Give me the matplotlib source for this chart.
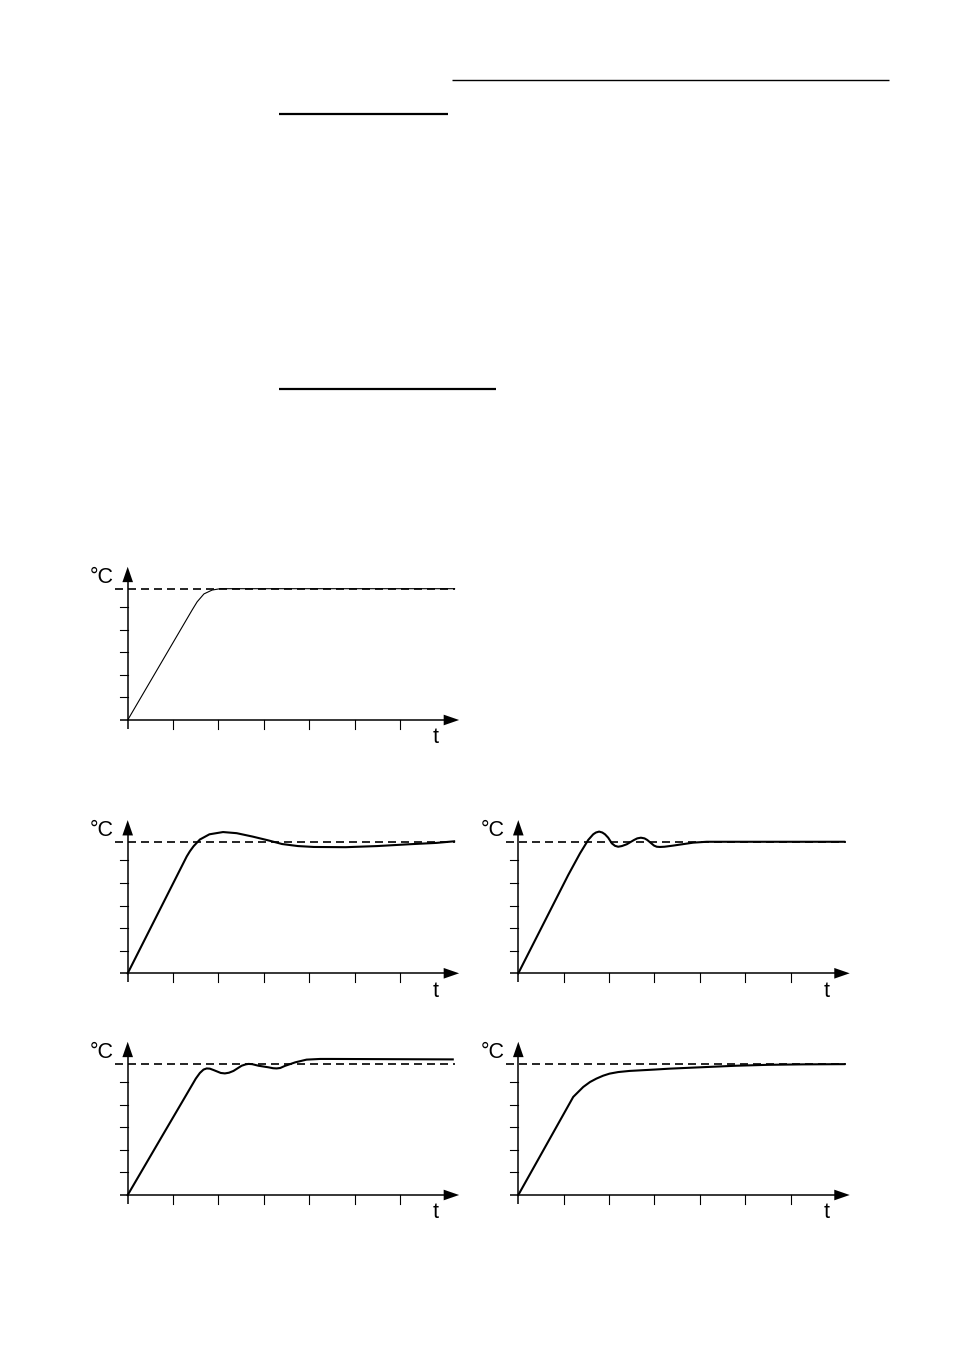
import matplotlib.pyplot as plt
from matplotlib.lines import Line2D
import numpy as np

plt.rcParams['font.family'] = ['Liberation Sans', 'DejaVu Sans']

ANCHO, ALTO = 954, 1351
UX, UY = 45.4, 22.6          # pixeles por division en x e y

# curvas (t en divisiones, temperatura en divisiones)
t_1 = [0, 1.42, 1.53, 1.68, 1.86, 2.04, 7.20]
temp_1 = [0, 4.87, 5.23, 5.58, 5.75, 5.81, 5.81]

t_2 = [0, 1.30, 1.37, 1.45, 1.59, 1.80, 2.10, 2.40, 2.75, 3.10, 3.40, 3.75,
       4.10, 4.80, 5.50, 6.20, 6.80, 7.19]
temp_2 = [0, 5.17, 5.40, 5.62, 5.92, 6.15, 6.25, 6.20, 6.05, 5.88, 5.72, 5.63,
          5.59, 5.58, 5.63, 5.71, 5.77, 5.84]

t_3 = [0, 1.10, 1.36, 1.54, 1.65, 1.71, 1.78, 1.85, 1.91, 1.98, 2.06, 2.13,
       2.20, 2.28, 2.39, 2.55, 2.62, 2.70, 2.78, 2.84, 2.99, 3.05, 3.12, 3.22,
       3.41, 3.85, 4.15, 7.18]
temp_3 = [0, 4.35, 5.31, 5.90, 6.15, 6.23, 6.27, 6.23, 6.15, 6.00, 5.75, 5.64,
          5.60, 5.63, 5.71, 5.90, 5.97, 6.00, 5.97, 5.90, 5.65, 5.60, 5.59, 5.60,
          5.65, 5.78, 5.82, 5.82]

t_4 = [0, 0.80, 1.20, 1.50, 1.59, 1.67, 1.74, 1.81, 1.89, 2.05, 2.14, 2.23,
       2.33, 2.51, 2.60, 2.66, 2.74, 2.88, 3.10, 3.20, 3.28, 3.36, 3.46, 3.69,
       3.94, 4.24, 4.47, 7.16]
temp_4 = [0, 2.75, 4.12, 5.15, 5.40, 5.55, 5.60, 5.59, 5.53, 5.40, 5.38, 5.41,
          5.49, 5.72, 5.78, 5.80, 5.79, 5.72, 5.65, 5.61, 5.60, 5.62, 5.71, 5.87,
          5.99, 6.02, 6.02, 6.00]

t_5 = [0, 1.21, 1.30, 1.43, 1.58, 1.72, 1.87, 2.01, 2.20, 2.45, 3.00, 3.33,
       4.00, 4.80, 5.50, 6.26, 7.18]
temp_5 = [0, 4.34, 4.52, 4.78, 5.00, 5.15, 5.28, 5.37, 5.44, 5.49, 5.55, 5.59,
          5.65, 5.72, 5.76, 5.78, 5.79]

consigna = [5.81, 5.81, 5.82, 5.80, 5.79]

curvas = [(t_1, temp_1), (t_2, temp_2), (t_3, temp_3), (t_4, temp_4), (t_5, temp_5)]
# origen de cada grafico en pixeles de la pagina
origenes = [(127.7, 720), (127.7, 973.3), (518.3, 973.3), (127.7, 1195), (518.3, 1195)]
grosores = [0.8, 1.5, 1.5, 1.5, 1.5]

XMIN, XMAX, YMIN, YMAX = -1.0, 7.6, -1.4, 7.0


def dibujar_grafico(fig, origen, t, temp, nivel, lw):
    ox, oy = origen
    izq = (ox + XMIN * UX) / ANCHO
    abajo = (ALTO - oy + YMIN * UY) / ALTO
    ax = fig.add_axes([izq, abajo, (XMAX - XMIN) * UX / ANCHO, (YMAX - YMIN) * UY / ALTO])
    ax.set_xlim(XMIN, XMAX)
    ax.set_ylim(YMIN, YMAX)
    ax.axis('off')

    # ejes
    ax.plot([-0.18, 6.97], [0, 0], color='black', lw=1.1, solid_capstyle='butt')
    ax.plot([0, 0], [-0.40, 6.12], color='black', lw=1.1, solid_capstyle='butt')
    ax.fill([0, -0.117, 0.117], [6.78, 6.10, 6.10], color='black', lw=0)
    ax.fill([7.30, 6.96, 6.96], [0, 0.236, -0.236], color='black', lw=0)
    for i in range(1, 7):
        ax.plot([i, i], [0, -0.40], color='black', lw=0.8)
    for j in range(1, 6):
        ax.plot([-0.18, 0], [j, j], color='black', lw=0.8)

    ax.plot([-0.28, 7.21], [nivel, nivel], color='black', lw=1.2,
            linestyle=(0, (4.8, 3.0)))
    ax.plot(t, temp, color='black', lw=lw, solid_joinstyle='round')

    ax.text(-0.30, 6.06, '°C', fontsize=15.5, ha='right', va='baseline')
    ax.text(6.79, -1.03, 't', fontsize=15.5, ha='center', va='baseline')


def main():
    fig = plt.figure(figsize=(ANCHO / 100, ALTO / 100), dpi=100)

    # lineas de encabezado de la pagina
    for x0, x1, y, w in [(452, 889, 80.3, 1.0), (279, 448, 113.7, 1.6), (279, 496, 389, 1.6)]:
        fig.add_artist(Line2D([x0 / ANCHO, x1 / ANCHO], [1 - y / ALTO, 1 - y / ALTO],
                              color='black', lw=w, solid_capstyle='butt'))

    for (t, temp), origen, nivel, lw in zip(curvas, origenes, consigna, grosores):
        dibujar_grafico(fig, origen, t, temp, nivel, lw)

    fig.savefig('out.png', dpi=100)


if __name__ == "__main__":
    main()
